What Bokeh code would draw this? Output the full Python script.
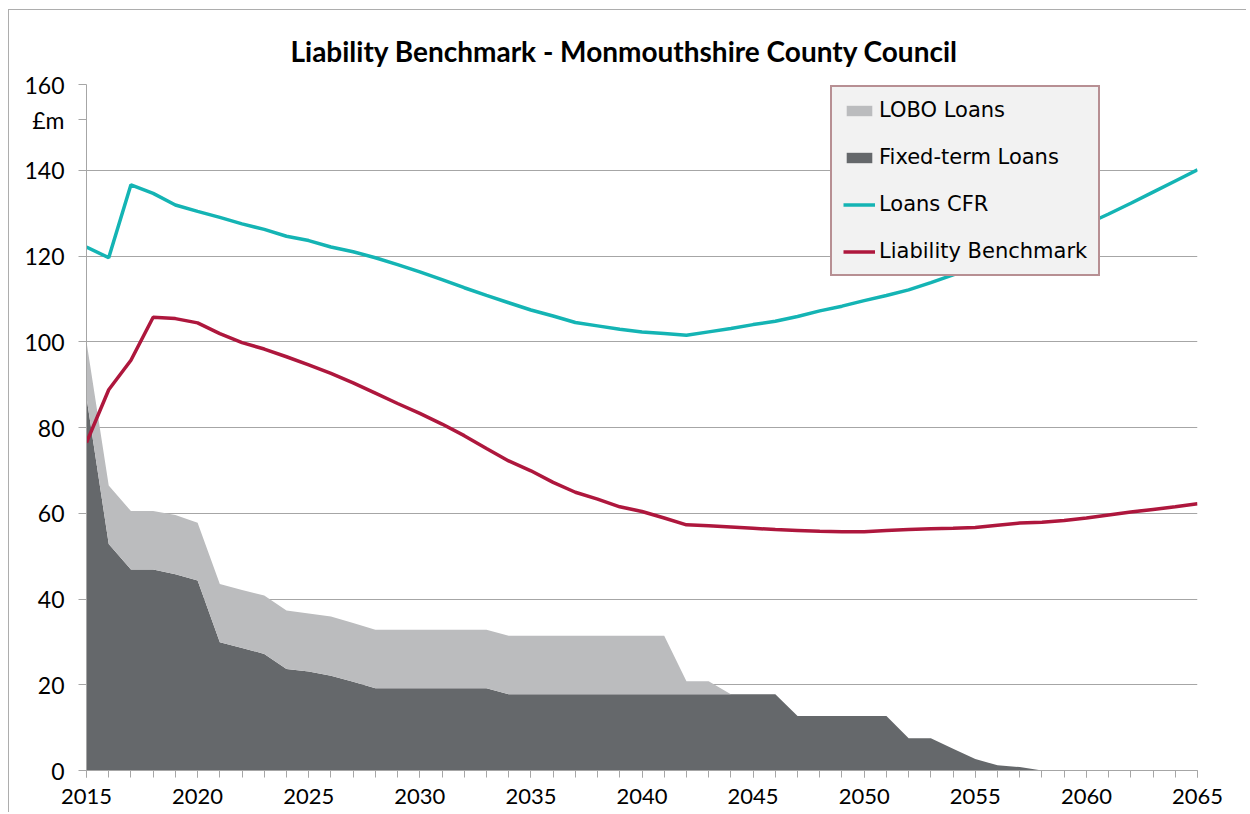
from bokeh.plotting import figure
from bokeh.models import (SingleIntervalTicker, FixedTicker, Legend, LegendItem, ColumnDataSource)
from bokeh.embed import file_html
from bokeh.resources import INLINE

# ---- data ----
years = list(range(2015, 2066))

fixed_term = [87.0, 52.8, 46.9, 46.9, 45.8, 44.3, 29.9, 28.6, 27.2, 23.7,
              23.1, 22.1, 20.7, 19.2, 19.2, 19.2, 19.2, 19.2, 19.2, 17.8,
              17.8, 17.8, 17.8, 17.8, 17.8, 17.8, 17.8, 17.8, 17.8, 17.8,
              17.8, 17.8, 12.7, 12.7, 12.7, 12.7, 12.7, 7.5, 7.5, 5.1,
              2.7, 1.2, 0.8, 0.0, 0.0, 0.0, 0.0, 0.0, 0.0, 0.0, 0.0]

lobo = [13.0, 13.7, 13.6, 13.6, 13.8, 13.5, 13.6, 13.5, 13.6, 13.6,
        13.5, 13.8, 13.7, 13.6, 13.6, 13.6, 13.6, 13.6, 13.6, 13.6,
        13.6, 13.6, 13.6, 13.6, 13.6, 13.6, 13.6, 3.0, 3.0, 0.0,
        0.0, 0.0, 0.0, 0.0, 0.0, 0.0, 0.0, 0.0, 0.0, 0.0,
        0.0, 0.0, 0.0, 0.0, 0.0, 0.0, 0.0, 0.0, 0.0, 0.0, 0.0]

loans_cfr = [122.1, 119.6, 136.6, 134.6, 131.9, 130.4, 129.0, 127.5, 126.2, 124.6,
             123.6, 122.1, 121.0, 119.6, 118.0, 116.3, 114.5, 112.6, 110.8, 109.1,
             107.4, 106.0, 104.5, 103.7, 102.9, 102.3, 101.9, 101.5, 102.3, 103.1,
             104.0, 104.8, 105.9, 107.2, 108.3, 109.6, 110.8, 112.1, 113.8, 115.6,
             117.5, 119.4, 121.3, 123.3, 125.3, 127.4, 129.8, 132.3, 134.9, 137.5, 140.1]

benchmark = [76.5, 88.8, 95.7, 105.7, 105.4, 104.4, 101.9, 99.8, 98.3, 96.5,
             94.6, 92.6, 90.4, 88.0, 85.6, 83.3, 80.8, 78.1, 75.1, 72.2,
             69.9, 67.2, 64.9, 63.3, 61.5, 60.4, 58.9, 57.3, 57.1, 56.8,
             56.5, 56.2, 56.0, 55.8, 55.7, 55.7, 56.0, 56.2, 56.4, 56.5,
             56.7, 57.2, 57.7, 57.9, 58.3, 58.9, 59.6, 60.3, 60.9, 61.5, 62.2]

series_names = ["LOBO Loans", "Fixed-term Loans", "Loans CFR", "Liability Benchmark"]
title_text = "Liability Benchmark - Monmouthshire County Council"
y_ticks = [0, 20, 40, 60, 80, 100, 120, 140, 160]
y_unit = "£m"
y_unit_pos = 151.8

total = [f + l for f, l in zip(fixed_term, lobo)]
src = ColumnDataSource(dict(year=years, fixed=fixed_term, total=total,
                            cfr=loans_cfr, bench=benchmark))

C_LOBO = "#BBBCBE"
C_FIXED = "#65686B"
C_CFR = "#14B4B4"
C_BENCH = "#AE173D"
GRID = "#A6A6A6"

p = figure(width=1238, height=803, x_range=(2015, 2065), y_range=(0, 160),
           output_backend="svg", toolbar_location=None,
           min_border_left=77, min_border_right=50, min_border_top=74, min_border_bottom=43)
p.styles = {"margin-left": "8px", "margin-top": "9px",
            "border-top": "1px solid #ADADAD", "border-left": "1px solid #ADADAD"}
p.outline_line_color = None
p.background_fill_color = "white"
p.border_fill_color = "white"

p.title.text = title_text
p.title.align = "left"
p.title.offset = 204
p.title.vertical_align = "top"
p.title.text_font = "Lato"
p.title.text_font_style = "bold"
p.title.text_font_size = "28px"
p.title.text_color = "black"
p.title.standoff = 30

r_fixed = p.varea(x="year", y1=0, y2="fixed", source=src, fill_color=C_FIXED)
r_lobo = p.varea(x="year", y1="fixed", y2="total", source=src, fill_color=C_LOBO)
r_cfr = p.line(x="year", y="cfr", source=src, line_color=C_CFR, line_width=3.5)
r_bench = p.line(x="year", y="bench", source=src, line_color=C_BENCH, line_width=3.5)

# axes
xax = p.xaxis[0]
xax.ticker = SingleIntervalTicker(interval=5, num_minor_ticks=5)
xax.major_tick_out = 7
xax.major_tick_in = 0
xax.minor_tick_out = 7
xax.minor_tick_in = 0
xax.minor_tick_line_color = GRID
xax.major_label_standoff = 11
xax.major_label_text_font_size = "22px"

yax = p.yaxis[0]
yax.ticker = FixedTicker(ticks=y_ticks + [y_unit_pos])
yax.major_label_overrides = {y_unit_pos: y_unit}
yax.major_tick_out = 8
yax.major_tick_in = 0
yax.minor_tick_line_color = None
yax.major_label_standoff = 14
yax.major_label_text_font_size = "23px"

for ax in (xax, yax):
    ax.axis_line_color = GRID
    ax.major_tick_line_color = GRID
    ax.major_label_text_font = "Lato"
    ax.major_label_text_color = "black"

p.xgrid.grid_line_color = None
p.ygrid.grid_line_color = GRID
p.ygrid.grid_line_width = 1
p.ygrid.ticker = FixedTicker(ticks=y_ticks)

legend = Legend(items=[LegendItem(label=series_names[0], renderers=[r_lobo]),
                       LegendItem(label=series_names[1], renderers=[r_fixed]),
                       LegendItem(label=series_names[2], renderers=[r_cfr]),
                       LegendItem(label=series_names[3], renderers=[r_bench])],
                location=(744, 494), orientation="vertical")
legend.border_line_color = "#7B2C34"
legend.border_line_width = 2
legend.background_fill_color = "#F2F2F2"
legend.background_fill_alpha = 1
legend.label_text_font = "DejaVu Sans"
legend.label_text_font_size = "21px"
legend.label_text_color = "black"
legend.glyph_width = 32
legend.glyph_height = 13
legend.label_standoff = 4
legend.spacing = 23
legend.padding = 11
legend.margin = 0
legend.label_height = 24
p.add_layout(legend)

open("out.html", "w").write(file_html(p, INLINE))
